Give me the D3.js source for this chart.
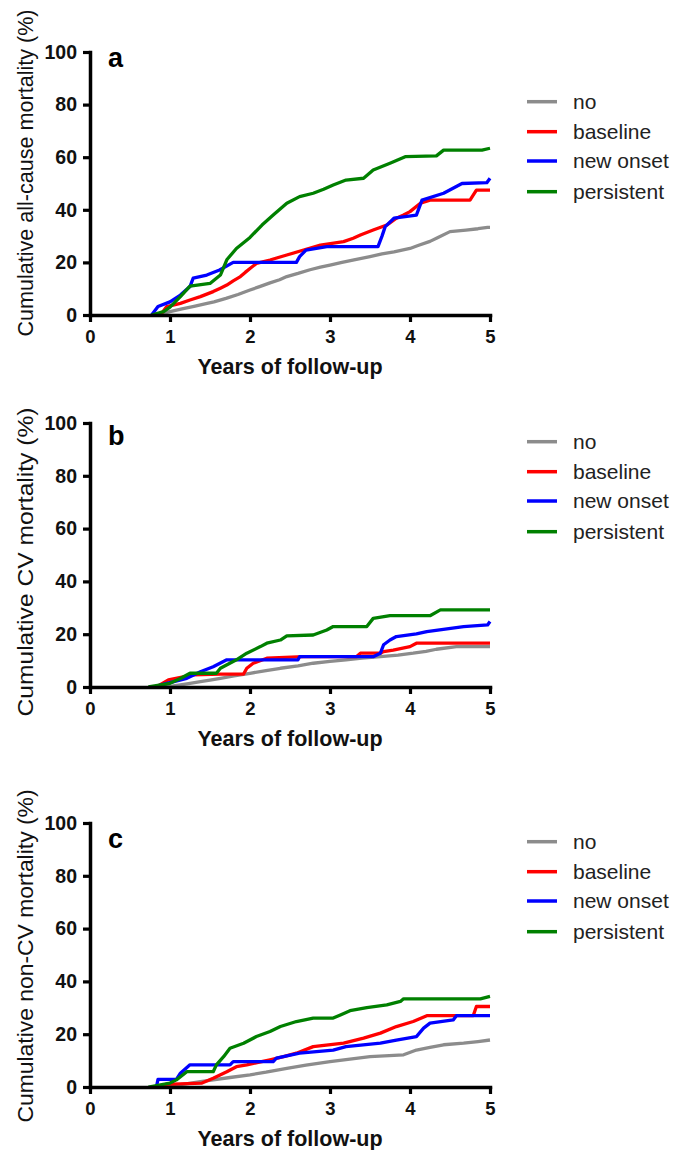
<!DOCTYPE html>
<html>
<head>
<meta charset="utf-8">
<script src="https://cdn.jsdelivr.net/npm/d3@7"></script>
<style>
  html, body { margin: 0; padding: 0; background: #fff; }
  svg { display: block; font-family: "Liberation Sans", Arial, sans-serif; }
</style>
</head>
<body>
<svg id="chart" width="673" height="1150"></svg>
<script>
// ---------- data ----------
const seriesNames = ["no", "baseline", "new onset", "persistent"];
const panelLetters = ["a", "b", "c"];
const yTitles = ["Cumulative all-cause mortality (%)", "Cumulative CV mortality (%)", "Cumulative non-CV mortality (%)"];
const xTitle = "Years of follow-up";
const xTicks = [0, 1, 2, 3, 4, 5];
const yTicks = [0, 20, 40, 60, 80, 100];

// Panel a: all-cause  [years, %]
const aNo = [[0.77,0],[0.9,0.5],[1.0,1.3],[1.15,2.3],[1.3,3.3],[1.45,4.3],[1.55,5.0],[1.7,6.3],[1.85,7.8],[2.0,9.5],[2.12,10.8],[2.25,12.2],[2.37,13.4],[2.46,14.6],[2.6,15.8],[2.75,17.2],[2.88,18.2],[3.0,19.0],[3.15,20.0],[3.3,21.0],[3.5,22.2],[3.65,23.2],[3.8,24.0],[3.9,24.7],[4.0,25.3],[4.1,26.4],[4.25,28.0],[4.35,29.5],[4.5,31.7],[4.7,32.3],[4.85,32.8],[4.97,33.3],[5.0,33.3]];
const aBaseline = [[0.88,0],[0.96,3.2],[1.13,4.4],[1.25,5.7],[1.38,7.0],[1.54,8.9],[1.63,10.2],[1.71,11.4],[1.79,13.0],[1.88,14.6],[1.94,16.2],[2.0,17.7],[2.08,19.6],[2.25,20.9],[2.46,22.8],[2.67,24.7],[2.88,26.6],[3.17,27.9],[3.29,29.2],[3.38,30.4],[3.54,32.3],[3.71,34.2],[3.83,36.8],[3.92,38.0],[4.0,39.3],[4.13,42.5],[4.25,43.7],[4.75,43.7],[4.79,45.6],[4.83,47.5],[5.0,47.5]];
const aNewOnset = [[0.77,0],[0.85,3.2],[1.0,5.0],[1.13,7.6],[1.25,10.8],[1.29,14.0],[1.46,15.2],[1.62,17.1],[1.79,20.0],[2.58,20.0],[2.62,22.2],[2.7,24.7],[2.96,26.0],[3.6,26.0],[3.65,30.0],[3.69,33.6],[3.8,36.8],[4.08,38.0],[4.15,43.7],[4.42,46.3],[4.65,50.0],[4.96,50.3],[5.0,52.0]];
const aPersistent = [[0.77,0],[0.92,1.3],[1.0,3.0],[1.13,7.0],[1.25,11.0],[1.5,12.0],[1.63,15.2],[1.71,21.0],[1.83,25.3],[2.0,29.5],[2.15,34.2],[2.29,38.0],[2.46,42.5],[2.62,45.0],[2.79,46.3],[2.92,47.8],[3.04,49.4],[3.2,51.3],[3.42,52.0],[3.54,55.1],[3.75,57.7],[3.94,60.2],[4.33,60.5],[4.42,62.7],[4.9,62.7],[5.0,63.4]];

// Panel b: CV
const bNo = [[0.77,0],[1.0,0.2],[1.13,0.8],[1.25,1.4],[1.38,2.0],[1.5,2.6],[1.63,3.3],[1.8,4.2],[2.0,5.2],[2.2,6.2],[2.38,7.1],[2.6,8.0],[2.79,9.0],[3.0,9.7],[3.2,10.3],[3.4,10.9],[3.63,11.5],[3.85,12.1],[4.04,12.8],[4.2,13.5],[4.33,14.3],[4.58,15.3],[5.0,15.3]];
const bBaseline = [[0.83,0],[0.98,2.7],[1.29,4.6],[1.63,4.9],[1.92,4.9],[1.96,7.1],[2.04,9.0],[2.21,10.9],[2.67,11.5],[3.33,11.5],[3.38,12.8],[3.63,12.8],[3.67,13.4],[3.79,14.0],[4.0,15.3],[4.08,16.6],[5.0,16.6]];
const bNewOnset = [[0.79,0],[0.96,1.4],[1.21,3.3],[1.38,5.8],[1.54,7.7],[1.71,10.3],[2.6,10.3],[2.62,11.5],[3.54,11.5],[3.63,12.8],[3.67,16.0],[3.75,17.8],[3.83,19.1],[4.08,20.1],[4.21,21.0],[4.67,22.9],[4.97,23.5],[5.0,24.8]];
const bPersistent = [[0.73,0],[1.0,1.4],[1.13,3.2],[1.25,5.2],[1.58,5.2],[1.63,7.1],[1.83,10.3],[1.96,12.8],[2.13,15.3],[2.21,16.6],[2.38,17.8],[2.46,19.4],[2.79,19.7],[2.96,21.6],[3.04,22.9],[3.46,22.9],[3.54,26.0],[3.75,27.0],[4.25,27.0],[4.38,29.2],[5.0,29.2]];

// Panel c: non-CV
const cNo = [[0.8,0],[1.0,0.4],[1.2,1.2],[1.38,2.0],[1.54,2.7],[1.75,3.6],[2.0,4.6],[2.2,5.6],[2.46,7.1],[2.7,8.3],[3.0,9.6],[3.25,10.6],[3.5,11.5],[3.92,12.2],[4.08,14.0],[4.25,15.0],[4.42,16.0],[4.67,16.6],[4.85,17.2],[5.0,17.8]];
const cBaseline = [[0.8,0],[0.95,1.0],[1.4,1.5],[1.54,3.3],[1.71,5.8],[1.83,7.7],[1.96,8.4],[2.25,10.3],[2.42,11.5],[2.58,12.8],[2.79,15.3],[3.17,16.6],[3.42,18.5],[3.63,20.4],[3.83,22.9],[4.04,24.8],[4.21,27.0],[4.79,27.0],[4.83,30.5],[5.0,30.5]];
const cNewOnset = [[0.83,0],[0.85,2.9],[1.08,2.9],[1.13,5.2],[1.25,8.4],[1.75,8.4],[1.79,9.6],[2.29,9.6],[2.33,10.9],[2.62,12.8],[3.04,14.0],[3.2,15.3],[3.63,16.6],[3.83,17.8],[4.08,19.1],[4.17,22.3],[4.25,24.2],[4.54,25.4],[4.58,27.0],[5.0,27.0]];
const cPersistent = [[0.73,0],[1.0,1.5],[1.08,2.7],[1.21,5.8],[1.54,5.8],[1.58,8.4],[1.67,11.5],[1.75,14.7],[1.92,16.6],[2.08,19.1],[2.25,21.0],[2.38,22.9],[2.58,24.8],[2.79,26.1],[3.04,26.1],[3.13,27.3],[3.25,28.9],[3.46,30.1],[3.71,31.1],[3.88,32.4],[3.92,33.4],[4.88,33.4],[5.0,34.3]];

const panelSeries = [
  [aNo, aBaseline, aNewOnset, aPersistent],
  [bNo, bBaseline, bNewOnset, bPersistent],
  [cNo, cBaseline, cNewOnset, cPersistent]
];

// ---------- layout / style ----------
const colors = ["#8c8c8c", "#ff0000", "#0000ff", "#008000"];
const plotX = [90, 490];
const panelLayout = [
  { top: 52,  bottom: 315,  titleY: 173, titleLen: 327, letterY: 67,  legendY: [101.7, 131.7, 161, 191.7] },
  { top: 423, bottom: 687,  titleY: 562, titleLen: 309, letterY: 445, legendY: [441.7, 471.7, 501, 531.7] },
  { top: 823, bottom: 1087, titleY: 956, titleLen: 333, letterY: 848, legendY: [841.7, 871.7, 901, 931.7] }
];

const svg = d3.select("#chart");
const x = d3.scaleLinear().domain([0, 5]).range(plotX);

panelLayout.forEach((L, pi) => {
  const y = d3.scaleLinear().domain([0, 100]).range([L.bottom, L.top]);
  const g = svg.append("g");

  // curves
  const line = d3.line().x(d => x(d[0])).y(d => y(d[1])).curve(d3.curveLinear);
  panelSeries[pi].forEach((s, si) => {
    g.append("path")
      .datum(s)
      .attr("d", line)
      .attr("fill", "none")
      .attr("stroke", colors[si])
      .attr("stroke-width", 3.3)
      .attr("stroke-linejoin", "round");
  });

  // axes
  const yAxis = d3.axisLeft(y).tickValues(yTicks).tickFormat(d3.format("d")).tickSize(7).tickSizeOuter(0).tickPadding(6);
  const yg = g.append("g").attr("transform", `translate(${plotX[0]},0)`).call(yAxis);
  const xAxis = d3.axisBottom(x).tickValues(xTicks).tickFormat(d3.format("d")).tickSize(7).tickSizeOuter(0).tickPadding(8);
  const xg = g.append("g").attr("transform", `translate(0,${L.bottom})`).call(xAxis);

  [yg, xg].forEach(ax => {
    ax.select(".domain").attr("stroke", "#000").attr("stroke-width", 3.5).attr("stroke-linecap", "square");
    ax.selectAll(".tick line").attr("stroke", "#000").attr("stroke-width", 3.2);
    ax.selectAll(".tick text").attr("fill", "#111").attr("font-weight", "bold")
      .attr("font-family", "'Liberation Sans', Arial, sans-serif");
  });
  yg.selectAll(".tick text").attr("font-size", 19.5);
  xg.selectAll(".tick text").attr("font-size", 18.5);

  // x title
  g.append("text")
    .attr("x", (plotX[0] + plotX[1]) / 2)
    .attr("y", L.bottom + 58.5)
    .attr("text-anchor", "middle")
    .attr("font-size", 21.5)
    .attr("font-weight", "bold")
    .attr("fill", "#111")
    .text(xTitle);

  // y title
  g.append("text")
    .attr("transform", `translate(33,${L.titleY}) rotate(-90)`)
    .attr("text-anchor", "middle")
    .attr("font-size", 22)
    .attr("fill", "#111")
    .attr("textLength", L.titleLen)
    .attr("lengthAdjust", "spacingAndGlyphs")
    .text(yTitles[pi]);

  // panel letter
  g.append("text")
    .attr("x", 108)
    .attr("y", L.letterY)
    .attr("font-size", 27)
    .attr("font-weight", "bold")
    .attr("fill", "#000")
    .text(panelLetters[pi]);

  // legend
  seriesNames.forEach((name, si) => {
    const ly = L.legendY[si];
    g.append("line")
      .attr("x1", 527).attr("x2", 557)
      .attr("y1", ly).attr("y2", ly)
      .attr("stroke", colors[si])
      .attr("stroke-width", 3.5);
    g.append("text")
      .attr("x", 573)
      .attr("y", ly)
      .attr("dy", "0.35em")
      .attr("font-size", 21)
      .attr("fill", "#222")
      .text(name);
  });
});
</script>
</body>
</html>
